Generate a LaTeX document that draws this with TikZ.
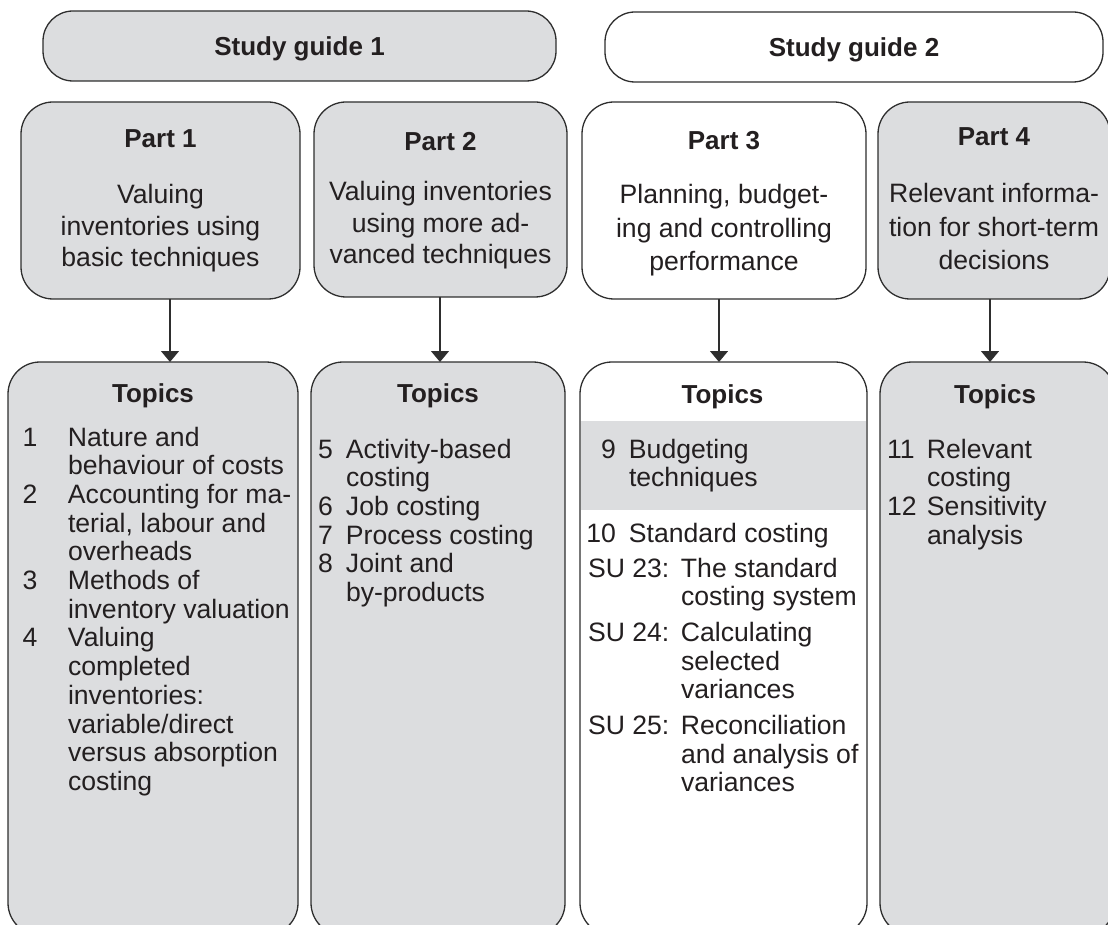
\documentclass[tikz,border=0pt]{standalone}
\usepackage{fontspec}
\setmainfont{Liberation Sans}
\usetikzlibrary{arrows.meta}

\definecolor{boxgray}{HTML}{DCDDDF}
\definecolor{ink}{HTML}{231F20}
\definecolor{edge}{HTML}{2E2E2E}

\newcommand{\listsize}{\fontsize{26.6}{28.7}\selectfont}
\newcommand{\partsize}{\fontsize{26.6}{31.5}\selectfont}
\newcommand{\partsizewide}{\fontsize{26.6}{33.5}\selectfont}

\begin{document}
\begin{tikzpicture}[x=1pt, y=-1pt,
  every node/.style={inner sep=0pt, outer sep=0pt, text=ink},
  box/.style={draw=edge, line width=1.3pt, rounded corners=32pt},
  guide/.style={box, rounded corners=30pt, minimum height=70pt},
  grayfill/.style={fill=boxgray},
  whitefill/.style={fill=white},
  partbox/.style={box, minimum height=197pt},
  topicbox/.style={box, minimum height=573pt},
  head/.style={anchor=base, font=\bfseries\fontsize{26}{30}\selectfont},
  body/.style={anchor=base},
  item/.style={anchor=base west},
  link/.style={draw=edge, line width=1.4pt, -{Triangle[width=18pt,length=11pt]}}
]
\useasboundingbox (0,0) rectangle (1108,925);
\clip (0,0) rectangle (1108,925);

% study guides
\node[guide, grayfill, minimum width=513pt] (sg1) at (299.5,46) {};
\node[head] (sg1t) at (299.5,56) {Study guide 1};
\node[guide, whitefill, minimum width=498pt] (sg2) at (854,47) {};
\node[head] (sg2t) at (854,57) {Study guide 2};

% parts
\node[partbox, grayfill, minimum width=279pt] (p1) at (160.5,200.5) {};
\node[head] (p1t) at (160.5,148) {Part 1};
\node[body] (p1b) at (160.5,204) {\partsize\begin{tabular}[t]{@{}c@{}}Valuing\\inventories using\\basic techniques\end{tabular}};

\node[partbox, grayfill, minimum width=253pt, minimum height=195pt] (p2) at (440.5,199.5) {};
\node[head] (p2t) at (440.5,151) {Part 2};
\node[body] (p2b) at (440.5,201) {\partsize\begin{tabular}[t]{@{}c@{}}Valuing inventories\\using more ad-\\vanced techniques\end{tabular}};

\node[partbox, whitefill, minimum width=284pt] (p3) at (724,200.5) {};
\node[head] (p3t) at (724,150) {Part 3};
\node[body] (p3b) at (724,204) {\partsizewide\begin{tabular}[t]{@{}c@{}}Planning, budget-\\ing and controlling\\performance\end{tabular}};

\node[partbox, grayfill, minimum width=232pt] (p4) at (994,200.5) {};
\node[head] (p4t) at (994,146) {Part 4};
\node[body] (p4b) at (994,203) {\partsizewide\begin{tabular}[t]{@{}c@{}}Relevant informa-\\tion for short-term\\decisions\end{tabular}};

% topic boxes
\node[topicbox, grayfill, minimum width=290pt] (t1) at (153,648.5) {};
\node[topicbox, grayfill, minimum width=254pt] (t2) at (438,648.5) {};
\node[topicbox, whitefill, minimum width=287pt] (t3) at (723.5,648.5) {};
\node[topicbox, grayfill, minimum width=235pt] (t4) at (997.5,648.5) {};
\fill[boxgray] (580.7,421) rectangle (866.3,510);

% connectors
\coordinate (a1) at (170,0);
\coordinate (a2) at (440,0);
\coordinate (a3) at (719,0);
\coordinate (a4) at (990,0);
\draw[link] (p1.south -| a1) -- (t1.north -| a1);
\draw[link] (p2.south -| a2) -- (t2.north -| a2);
\draw[link] (p3.south -| a3) -- (t3.north -| a3);
\draw[link] (p4.south -| a4) -- (t4.north -| a4);

% topic headings
\node[head] (t1h) at (153,402) {Topics};
\node[head] (t2h) at (438,402) {Topics};
\node[head] (t3h) at (722.5,403) {Topics};
\node[head] (t4h) at (995,403) {Topics};

% topic lists
\node[item] (t1l) at (22.5,446) {\listsize\begin{tabular}[t]{@{}p{45.5pt}@{}l@{}}
1 & Nature and\\
  & behaviour of costs\\
2 & Accounting for ma-\\
  & terial, labour and\\
  & overheads\\
3 & Methods of\\
  & inventory valuation\\
4 & Valuing\\
  & completed\\
  & inventories:\\
  & variable/direct\\
  & versus absorption\\
  & costing
\end{tabular}};

\node[item] (t2l) at (318,458) {\listsize\begin{tabular}[t]{@{}p{28pt}@{}l@{}}
5 & Activity-based\\
  & costing\\
6 & Job costing\\
7 & Process costing\\
8 & Joint and\\
  & by-products
\end{tabular}};

\node[item] (t3a) at (586,458) {\listsize\begin{tabular}[t]{@{}p{43pt}@{}l@{}}
\makebox[30pt][r]{9} & Budgeting\\
  & techniques
\end{tabular}};
\node[item] (t3b) at (586,542) {\listsize\makebox[30pt][r]{10}\hspace{13pt}Standard costing};
\node[item] (t3c) at (588,577) {\listsize\begin{tabular}[t]{@{}p{93pt}@{}l@{}}
SU 23: & The standard\\
       & costing system\\[7pt]
SU 24: & Calculating\\
       & selected\\
       & variances\\[7pt]
SU 25: & Reconciliation\\
       & and analysis of\\
       & variances
\end{tabular}};

\node[item] (t4l) at (887,458) {\listsize\begin{tabular}[t]{@{}p{40pt}@{}l@{}}
11 & Relevant\\
   & costing\\
12 & Sensitivity\\
   & analysis
\end{tabular}};
\end{tikzpicture}
\end{document}
